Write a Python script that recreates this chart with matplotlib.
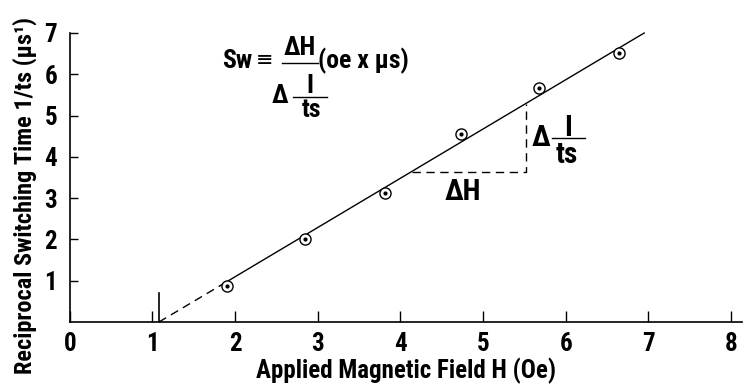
import matplotlib.pyplot as plt
from matplotlib import font_manager

# measured points (H in Oe, 1/ts in 1/us)
field_h = [1.90, 2.85, 3.81, 4.73, 5.68, 6.64]
recip_ts = [0.86, 2.00, 3.12, 4.55, 5.67, 6.52]

# fitted line: dashed extrapolation to the H axis, then solid
fit_dash_h = [1.08, 1.82]
fit_dash_y = [0.0, 0.88]
fit_solid_h = [1.82, 6.95]
fit_solid_y = [0.88, 7.0]

# slope triangle
tri_h = [4.14, 5.52, 5.52]
tri_y = [3.63, 3.63, 5.28]

# threshold marker
thr_h = [1.08, 1.08]
thr_y = [0.0, 0.7]

x_ticks = [0, 1, 2, 3, 4, 5, 6, 7, 8]
y_ticks = [1, 2, 3, 4, 5, 6, 7]

installed = {f.name for f in font_manager.fontManager.ttflist}
preferred = ["Liberation Sans Narrow", "Roboto Condensed", "Barlow Semi Condensed",
             "Barlow Condensed"]
narrow = next((n for n in preferred if n in installed), "DejaVu Sans")
FONT = [narrow, "DejaVu Sans"]
plt.rcParams["font.family"] = FONT
plt.rcParams["font.weight"] = "bold"

fig = plt.figure(figsize=(7.43, 3.85), dpi=100)
ax = fig.add_axes([69.7 / 743, 63 / 385, 672 / 743, 289 / 385])
ax.set_xlim(0, 8.13)
ax.set_ylim(0, 7.0)

ax.plot(fit_dash_h, fit_dash_y, color="black", lw=1.0, ls=(0, (6, 4)), clip_on=False)
ax.plot(fit_solid_h, fit_solid_y, color="black", lw=1.0, clip_on=False)
ax.plot(tri_h, tri_y, color="black", lw=1.0, ls=(0, (6, 4)))
ax.plot(thr_h, thr_y, color="black", lw=1.2)

ax.plot(field_h, recip_ts, ls="none", marker="o", ms=8, mfc="white",
        mec="black", mew=1.0, zorder=3)
ax.plot(field_h, recip_ts, ls="none", marker="o", ms=2, mfc="black",
        mec="black", zorder=4)

for s in ["top", "right"]:
    ax.spines[s].set_visible(False)
for s in ["left", "bottom"]:
    ax.spines[s].set_linewidth(1.2)

ax.set_xticks(x_ticks)
ax.set_yticks(y_ticks)
ax.tick_params(axis="x", direction="in", length=8, width=1.0, pad=7, labelsize=18)
ax.tick_params(axis="y", direction="in", length=6, width=1.0, pad=9, labelsize=18)
for lab in ax.get_xticklabels() + ax.get_yticklabels():
    lab.set_fontweight("bold")

fig.text(406 / 743, 1 - 371 / 385, "Applied Magnetic Field H (Oe)", ha="center",
         va="center", fontsize=18, fontweight="bold")
fig.text(25 / 743, 1 - 195 / 385, "Reciprocal Switching Time 1/ts (μs¹)",
         rotation=90, ha="center", va="center", fontsize=17.5, fontweight="bold")


def ftext(px, py, s, size=18.5, ha="center", weight="bold"):
    fig.text(px / 743, 1 - py / 385, s, ha=ha, va="center", fontsize=size,
             fontweight=weight)


def fline(x0, x1, py, lw=1.0):
    fig.add_artist(plt.Line2D([x0 / 743, x1 / 743], [1 - py / 385, 1 - py / 385],
                              color="black", lw=lw))


# definition formula
ftext(237, 61, "Sw")
ftext(265, 61, "≡", size=15, weight="normal")
ftext(300, 48, "ΔH")
fline(282, 318, 63)
ftext(318, 61, "(oe x μs)", ha="left")
ftext(280, 96, "Δ")
fline(293, 327, 97)
ftext(310, 86, "I")
ftext(311, 110, "ts")

# triangle labels
ftext(541, 138, "Δ", size=21)
fline(552, 585, 138)
ftext(568, 128, "I", size=21)
ftext(567, 155, "ts", size=21)
ftext(463, 192, "ΔH", size=21)

fig.savefig("out.png", dpi=100)
